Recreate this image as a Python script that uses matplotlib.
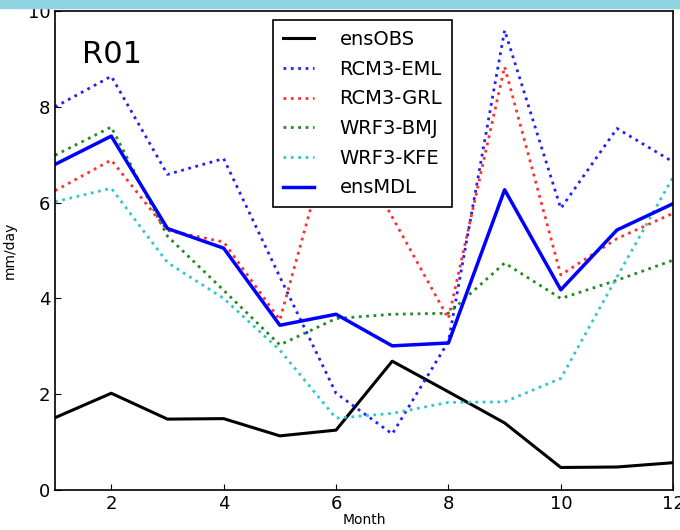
import matplotlib
matplotlib.use('Agg')
import matplotlib.pyplot as plt
from matplotlib.patches import Rectangle

# mean monthly precipitation, region R01
months = list(range(1, 13))
ens_obs = [1.51, 2.02, 1.48, 1.49, 1.13, 1.25, 2.69, 2.05, 1.40, 0.47, 0.48, 0.57]
rcm3_eml = [8.00, 8.64, 6.59, 6.92, 4.45, 2.02, 1.17, 3.10, 9.60, 5.88, 7.55, 6.85]
rcm3_grl = [6.25, 6.89, 5.42, 5.18, 3.55, 7.80, 5.70, 3.58, 8.84, 4.49, 5.25, 5.78]
wrf3_bmj = [6.99, 7.58, 5.30, 4.17, 3.03, 3.58, 3.67, 3.69, 4.74, 4.00, 4.38, 4.80]
wrf3_kfe = [6.02, 6.30, 4.75, 4.00, 2.92, 1.50, 1.60, 1.83, 1.84, 2.33, 4.45, 6.54]
ens_mdl = [6.80, 7.39, 5.46, 5.05, 3.44, 3.67, 3.01, 3.07, 6.27, 4.18, 5.43, 5.98]

series = [
    ('ensOBS', ens_obs, 'k', '-', 2.2),
    ('RCM3-EML', rcm3_eml, '#2020ff', ':', 2.0),
    ('RCM3-GRL', rcm3_grl, '#ff3030', ':', 2.0),
    ('WRF3-BMJ', wrf3_bmj, '#228b22', ':', 2.0),
    ('WRF3-KFE', wrf3_kfe, '#30c8c8', ':', 2.0),
    ('ensMDL', ens_mdl, '#0000ff', '-', 2.5),
]

fig = plt.figure(figsize=(6.8, 5.3), dpi=100)
fig.patches.append(Rectangle((0, 0.985), 1, 0.015, transform=fig.transFigure,
                             color='#8fd3e0', zorder=0))
ax = fig.add_axes([0.081, 0.0755, 0.909, 0.9035])

for name, vals, col, ls, lw in series:
    ax.plot(months, vals, color=col, linestyle=ls, linewidth=lw, label=name)

ax.set_xlim(1, 12)
ax.set_ylim(0, 10)
ax.set_xticks([2, 4, 6, 8, 10, 12])
ax.set_yticks([0, 2, 4, 6, 8, 10])
ax.tick_params(direction='in', labelsize=13, length=4, top=False, right=False)
for s in ax.spines.values():
    s.set_linewidth(1.2)

ax.set_xlabel('Month', fontsize=10, labelpad=0)
ax.set_ylabel('mm/day', fontsize=10)
ax.yaxis.set_label_coords(-0.062, 0.5)

ax.text(0.043, 0.91, 'R01', transform=ax.transAxes, fontsize=22,
        va='center', ha='left')

leg = ax.legend(loc='upper left', bbox_to_anchor=(0.353, 0.981), fontsize=14,
                frameon=True, fancybox=False, framealpha=1, borderaxespad=0,
                handlelength=1.6, borderpad=0.5, labelspacing=0.55,
                handletextpad=1.3)
leg.get_frame().set_edgecolor('black')
leg.get_frame().set_linewidth(1.2)

fig.savefig('out.png', dpi=100)
